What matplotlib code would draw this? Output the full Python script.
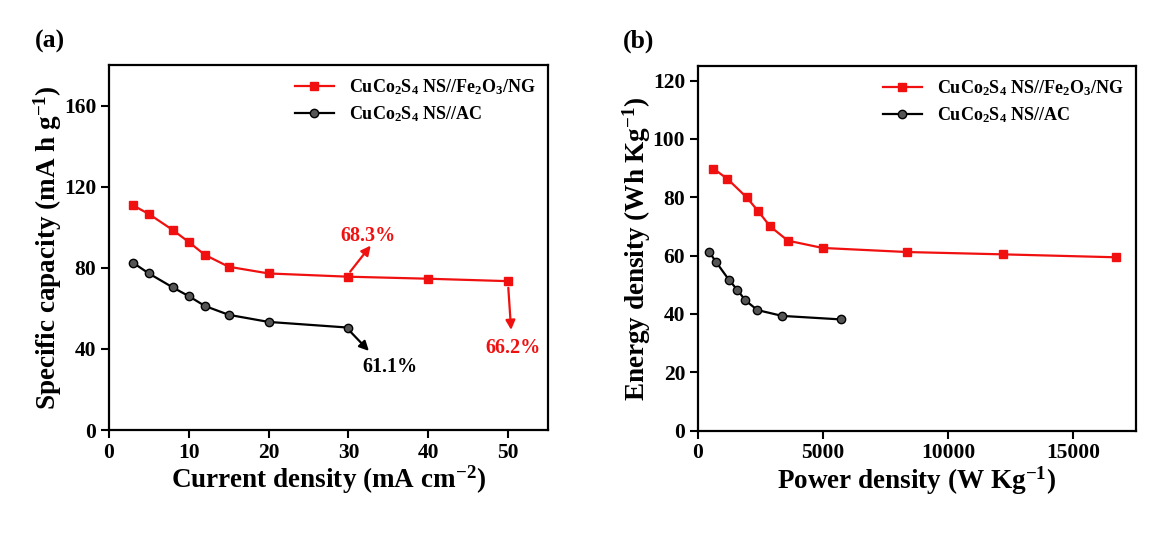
import matplotlib
matplotlib.use('Agg')
import matplotlib.pyplot as plt

plt.rcParams['font.family'] = ['Liberation Serif', 'DejaVu Serif']
plt.rcParams['font.weight'] = 'bold'
plt.rcParams['axes.labelweight'] = 'bold'
plt.rcParams['mathtext.fontset'] = 'custom'
plt.rcParams['mathtext.rm'] = 'Liberation Serif:bold'
plt.rcParams['mathtext.bf'] = 'Liberation Serif:bold'
plt.rcParams['mathtext.it'] = 'Liberation Serif:bold'
plt.rcParams['mathtext.default'] = 'bf'

# (a) 比容量 vs 电流密度
current = [3, 5, 8, 10, 12, 15, 20, 30, 40, 50]
cap_fe = [110.8, 106.5, 98.6, 92.7, 86.4, 80.5, 77.2, 75.6, 74.6, 73.4]
current_ac = [3, 5, 8, 10, 12, 15, 20, 30]
cap_ac = [82.5, 77.2, 70.3, 66.0, 61.2, 56.8, 53.3, 50.5]

# (b) 能量密度 vs 功率密度
power_fe = [625, 1185, 1960, 2425, 2890, 3600, 4985, 8360, 12200, 16690]
energy_fe = [89.8, 86.3, 79.9, 75.1, 70.0, 65.1, 62.6, 61.2, 60.4, 59.4]
power_ac = [452, 732, 1252, 1585, 1905, 2385, 3372, 5705]
energy_ac = [61.3, 57.8, 51.6, 48.2, 44.6, 41.3, 39.3, 38.1]

lab_fe = r'CuCo$_{2}$S$_{4}$ NS//Fe$_{2}$O$_{3}$/NG'
lab_ac = r'CuCo$_{2}$S$_{4}$ NS//AC'

fig = plt.figure(figsize=(11.73, 5.53), dpi=100)
ax1 = fig.add_axes([0.0929, 0.2224, 0.3743, 0.6601])
ax2 = fig.add_axes([0.5948, 0.2215, 0.3737, 0.6592])

for ax in (ax1, ax2):
    for s in ax.spines.values():
        s.set_linewidth(1.6)
    ax.tick_params(direction='out', length=6, width=1.5, labelsize=15.5,
                   pad=3, top=False, right=False)

# 图(a)
ax1.plot(current, cap_fe, '-s', color='#f01010', lw=1.6, ms=6, label=lab_fe)
ax1.plot(current_ac, cap_ac, '-o', color='black', lw=1.6, ms=6,
         mfc='#555555', mec='black', label=lab_ac)
ax1.set_xlim(0, 55)
ax1.set_ylim(0, 180)
ax1.set_xticks([0, 10, 20, 30, 40, 50])
ax1.set_yticks([0, 40, 80, 120, 160])
ax1.set_xlabel(r'Current density (mA cm$^{-2}$)', fontsize=19.5, labelpad=1)
ax1.set_ylabel(r'Specific capacity (mA h g$^{-1}$)', fontsize=19.5, labelpad=0)
ax1.legend(loc='upper right', frameon=False, fontsize=13,
           handlelength=2.2, borderaxespad=0.3, labelspacing=0.4)

ax1.annotate('', xy=(33, 92), xytext=(30, 77),
             arrowprops=dict(arrowstyle='-|>', color='#f01010', lw=1.6,
                             mutation_scale=14))
ax1.text(32.5, 95.5, '68.3%', color='#f01010', fontsize=14.5, ha='center', va='center')
ax1.annotate('', xy=(50.4, 48), xytext=(50, 71.5),
             arrowprops=dict(arrowstyle='-|>', color='#f01010', lw=1.6,
                             mutation_scale=14))
ax1.text(50.6, 40.3, '66.2%', color='#f01010', fontsize=14.5, ha='center', va='center')
ax1.annotate('', xy=(32.8, 38), xytext=(30, 49.5),
             arrowprops=dict(arrowstyle='-|>', color='black', lw=1.6,
                             mutation_scale=14))
ax1.text(35.2, 31, '61.1%', color='black', fontsize=14.5, ha='center', va='center')
fig.text(0.030, 0.925, '(a)', fontsize=18.5, ha='left', va='center')

# 图(b)
ax2.plot(power_fe, energy_fe, '-s', color='#f01010', lw=1.6, ms=6, label=lab_fe)
ax2.plot(power_ac, energy_ac, '-o', color='black', lw=1.6, ms=6,
         mfc='#555555', mec='black', label=lab_ac)
ax2.set_xlim(0, 17500)
ax2.set_ylim(0, 125)
ax2.set_xticks([0, 5000, 10000, 15000])
ax2.set_yticks([0, 20, 40, 60, 80, 100, 120])
ax2.set_xlabel(r'Power density (W Kg$^{-1}$)', fontsize=19.5, labelpad=1)
ax2.set_ylabel(r'Energy density (Wh Kg$^{-1}$)', fontsize=19.5, labelpad=0)
ax2.legend(loc='upper right', frameon=False, fontsize=13,
           handlelength=2.2, borderaxespad=0.3, labelspacing=0.4)
fig.text(0.531, 0.925, '(b)', fontsize=18.5, ha='left', va='center')

fig.savefig('out.png', dpi=100)
